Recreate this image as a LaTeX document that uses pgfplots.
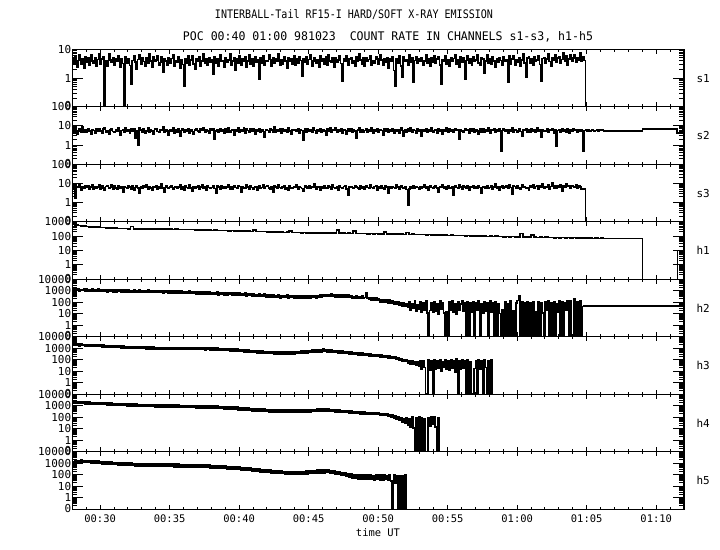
\documentclass[border=0pt]{standalone}
\usepackage{pgfplots}
\pgfplotsset{compat=1.18}
\usepackage{graphicx}
\usepackage{fontspec}
\setmainfont{DejaVu Sans Mono}
\newcommand{\lo}[1]{\raisebox{2.5bp}{#1}}
\newcommand{\hi}[1]{\raisebox{-1.5bp}{#1}}
\pgfplotsset{
 mypanel/.style={
   anchor=south west,
   width=611.7bp, height=57.5bp, scale only axis,
   xmin=28, xmax=72, ymin=0.1,
   axis line style={line width=1.4bp},
   xtick={30,35,40,45,50,55,60,65,70}, minor xtick={28,29,...,72},
   xticklabels={},
   tick align=inside,
   major tick length=4.5bp, minor tick length=2.5bp,
   tick style={line width=1bp, black},
   ytick style={draw=none},
   yticklabel style={font=\fontsize{11}{11}\selectfont, inner sep=1pt},
 },
 myyonly/.style={
   anchor=south west,
   width=611.7bp, height=57.5bp, scale only axis,
   xmin=28, xmax=72, ymin=0.1,
   hide x axis,
   y axis line style={draw=none},
   tick align=inside,
   major tick length=11bp, minor tick length=5bp,
   tick style={line width=1bp, black},
 },
 mydecA/.style={ymax=10, ytick={0.1,1,10},
   minor ytick={0.2,0.3,0.4,0.5,0.6,0.7,0.8,0.9,2,3,4,5,6,7,8,9}},
 mydecB/.style={ymax=100, ytick={0.1,1,10,100},
   minor ytick={0.2,0.3,0.4,0.5,0.6,0.7,0.8,0.9,2,3,4,5,6,7,8,9,20,30,40,50,60,70,80,90}},
 mydecC/.style={ymax=1000, ytick={0.1,1,10,100,1000},
   minor ytick={0.2,0.3,0.4,0.5,0.6,0.7,0.8,0.9,2,3,4,5,6,7,8,9,20,30,40,50,60,70,80,90,200,300,400,500,600,700,800,900}},
 mydecD/.style={ymax=10000, ytick={0.1,1,10,100,1000,10000},
   minor ytick={0.2,0.3,0.4,0.5,0.6,0.7,0.8,0.9,2,3,4,5,6,7,8,9,20,30,40,50,60,70,80,90,200,300,400,500,600,700,800,900,2000,3000,4000,5000,6000,7000,8000,9000}},
 mydat/.style={const plot, black, line width=1.6bp},
 mytl/.style={black, line width=1.2bp},
}
\begin{document}
\begin{tikzpicture}[x=1bp,y=1bp]
\fill[white] (0,0) rectangle (720,550);
\path[use as bounding box] (0,0) rectangle (720,550);
\node at (354,535) {\resizebox{278bp}{9bp}{INTERBALL-Tail RF15-I HARD/SOFT X-RAY EMISSION}};
\node at (388,513) {\resizebox{410bp}{9bp}{POC 00:40 01:00 981023\ \ COUNT RATE IN CHANNELS s1-s3, h1-h5}};

% s1
\begin{axis}[ymode=log, mypanel, mydecA, at={(72.3bp,443.2bp)}, yticklabels={\lo{0},1,\hi{10}}]
\addplot[mydat] table[row sep=\\, header=false, x expr=\coordindex*0.1+28, y index=0] {
4.5\\3.2\\5.8\\2.4\\4.1\\6.5\\3.0\\4.8\\2.2\\5.5\\
3.6\\4.9\\2.8\\6.2\\4.0\\3.3\\5.1\\2.6\\4.4\\7.0\\
3.1\\4.6\\5.3\\0.1\\3.9\\2.5\\6.8\\4.2\\3.5\\5.0\\
2.9\\4.7\\3.8\\6.1\\2.3\\4.5\\3.2\\0.1\\5.6\\3.4\\
4.8\\2.7\\0.6\\4.1\\5.9\\3.6\\2.1\\4.4\\6.6\\3.0\\
5.2\\3.8\\2.6\\4.9\\3.3\\7.2\\4.0\\2.4\\5.5\\3.7\\
4.3\\6.0\\2.9\\3.5\\5.4\\1.6\\4.6\\3.9\\2.7\\5.1\\
3.2\\4.8\\6.3\\2.5\\4.1\\3.6\\5.7\\2.2\\4.4\\3.0\\
0.5\\4.5\\3.4\\5.9\\2.8\\4.2\\6.1\\3.1\\2.0\\4.7\\
3.9\\5.3\\2.6\\4.0\\7.1\\3.3\\4.6\\2.9\\5.0\\3.6\\
4.4\\1.4\\5.6\\3.2\\4.8\\2.5\\6.4\\3.8\\4.1\\2.3\\
5.1\\3.5\\4.3\\6.7\\2.8\\3.9\\5.2\\1.9\\4.6\\3.4\\
6.0\\2.9\\4.5\\3.7\\5.4\\2.4\\4.0\\6.2\\3.1\\4.8\\
2.6\\5.5\\3.6\\4.2\\0.9\\4.9\\3.3\\5.8\\2.7\\4.1\\
3.8\\6.5\\4.4\\2.5\\5.0\\3.2\\4.7\\3.9\\6.9\\2.8\\
4.3\\3.0\\5.6\\4.0\\2.2\\5.2\\3.7\\4.5\\3.1\\6.0\\
2.9\\4.6\\3.4\\5.3\\4.1\\1.2\\4.8\\3.6\\5.7\\3.0\\
4.4\\6.3\\2.6\\3.9\\5.0\\3.3\\4.2\\2.4\\5.9\\3.8\\
4.7\\3.1\\5.4\\2.8\\6.6\\4.0\\3.5\\4.9\\2.3\\5.1\\
3.6\\4.3\\5.8\\3.2\\0.8\\4.6\\3.9\\6.1\\2.7\\4.5\\
5.2\\3.4\\4.1\\2.5\\5.6\\3.8\\6.8\\4.2\\3.0\\4.9\\
2.6\\5.0\\3.7\\4.4\\5.9\\2.9\\4.0\\3.3\\5.5\\4.7\\
3.1\\6.2\\4.3\\2.8\\4.8\\3.6\\5.1\\2.2\\4.5\\3.9\\
5.7\\1.8\\0.5\\4.6\\3.4\\6.0\\2.6\\1.1\\5.3\\3.7\\
4.4\\2.9\\6.4\\3.5\\4.9\\0.7\\4.1\\5.6\\3.2\\4.6\\
3.8\\5.2\\2.7\\4.0\\6.3\\3.4\\4.7\\2.5\\5.0\\3.6\\
6.1\\3.3\\4.5\\5.4\\2.8\\0.6\\4.2\\3.9\\5.8\\3.1\\
4.3\\2.6\\5.1\\3.7\\4.8\\6.6\\3.0\\4.4\\2.3\\5.5\\
3.5\\4.9\\0.9\\4.1\\5.9\\3.2\\4.6\\2.7\\5.3\\3.8\\
4.2\\6.2\\3.4\\2.9\\5.0\\4.5\\1.5\\4.0\\6.5\\3.3\\
4.7\\3.0\\5.6\\3.9\\2.4\\4.8\\3.6\\5.2\\4.1\\2.8\\
5.4\\3.7\\4.3\\0.7\\5.8\\3.1\\4.6\\6.0\\2.9\\4.4\\
3.6\\5.0\\2.6\\4.2\\6.7\\3.4\\1.1\\4.9\\5.5\\3.2\\
4.5\\2.8\\5.7\\3.9\\4.3\\6.1\\3.0\\0.8\\4.8\\5.2\\
3.3\\4.6\\7.0\\3.8\\2.5\\5.1\\4.2\\6.4\\3.5\\4.9\\
5.6\\3.2\\4.4\\7.3\\4.0\\5.8\\2.9\\4.7\\6.2\\3.7\\
4.9\\6.5\\3.6\\5.2\\4.3\\7.4\\3.9\\5.5\\4.1\\0.1\\
};
\end{axis}
\begin{axis}[ymode=log, myyonly, mydecA, at={(72.3bp,443.2bp)}, yticklabels={}]\end{axis}

% s2
\begin{axis}[ymode=log, mypanel, mydecB, at={(72.3bp,385.7bp)}, yticklabels={\lo{0},1,10,\hi{100}}]
\addplot[mydat] table[row sep=\\, header=false, x expr=\coordindex*0.1+28, y index=0] {
6.5\\4.2\\8.0\\3.6\\5.5\\7.2\\4.8\\9.5\\5.0\\6.1\\
4.6\\7.0\\5.3\\3.8\\6.4\\5.8\\4.4\\7.5\\5.1\\6.8\\
5.6\\4.0\\6.9\\8.2\\4.9\\5.7\\3.5\\6.3\\7.1\\5.2\\
4.5\\6.6\\5.4\\7.8\\3.2\\5.9\\6.2\\4.7\\8.5\\5.5\\
6.0\\4.3\\7.3\\5.1\\6.7\\2.2\\5.8\\1.0\\7.6\\6.1\\
5.0\\6.8\\4.1\\5.6\\7.9\\4.6\\6.3\\5.3\\3.9\\6.9\\
7.4\\5.2\\4.5\\6.5\\5.9\\8.8\\4.8\\6.0\\5.4\\3.4\\
6.2\\5.6\\7.7\\4.4\\6.1\\5.0\\6.8\\3.0\\5.7\\7.0\\
4.9\\6.4\\5.5\\7.2\\4.2\\6.6\\5.1\\3.7\\6.0\\7.5\\
5.3\\4.7\\6.9\\5.8\\8.1\\4.5\\6.2\\5.6\\4.0\\6.7\\
5.9\\7.3\\2.0\\5.4\\6.5\\4.8\\7.0\\5.2\\6.1\\4.4\\
6.8\\5.0\\7.6\\4.6\\5.7\\6.3\\3.3\\6.0\\5.5\\7.8\\
4.9\\6.2\\5.3\\8.4\\4.3\\6.7\\5.8\\4.7\\6.9\\5.1\\
7.1\\3.8\\6.0\\5.6\\7.4\\4.8\\6.3\\5.2\\2.6\\6.5\\
5.7\\4.5\\7.0\\6.1\\5.0\\8.6\\4.6\\6.4\\5.3\\7.2\\
4.1\\6.8\\5.5\\6.0\\4.9\\7.7\\5.4\\3.6\\6.6\\5.8\\
6.3\\5.1\\7.5\\4.4\\6.2\\5.7\\1.9\\6.9\\5.0\\7.1\\
5.4\\6.6\\4.7\\8.0\\5.9\\4.3\\6.4\\5.2\\7.3\\4.9\\
6.0\\5.5\\3.4\\6.7\\5.1\\7.6\\4.8\\6.3\\5.7\\8.3\\
4.6\\6.1\\5.3\\7.0\\4.2\\6.5\\5.9\\3.9\\7.4\\5.6\\
6.8\\4.9\\6.2\\5.4\\2.4\\6.0\\7.8\\5.0\\6.4\\4.5\\
5.8\\7.2\\4.7\\6.6\\5.3\\8.5\\4.1\\6.1\\5.5\\7.0\\
4.8\\6.3\\5.9\\3.2\\6.9\\5.2\\7.5\\4.6\\6.0\\5.6\\
7.3\\4.4\\6.5\\5.1\\6.2\\4.0\\7.9\\5.7\\3.0\\6.4\\
5.0\\6.7\\5.4\\7.6\\4.7\\6.1\\5.8\\4.3\\6.8\\5.3\\
6.5\\2.8\\6.0\\5.5\\7.1\\4.9\\6.4\\5.2\\8.0\\4.6\\
5.9\\6.6\\4.2\\7.3\\5.6\\6.0\\3.7\\6.2\\5.1\\7.7\\
4.8\\6.9\\5.3\\6.1\\4.5\\7.4\\5.7\\6.3\\2.1\\6.0\\
5.5\\4.9\\7.0\\5.8\\6.4\\4.1\\6.7\\5.2\\7.5\\4.7\\
6.2\\5.6\\3.5\\6.8\\5.0\\7.2\\4.6\\6.1\\5.4\\8.2\\
4.4\\6.5\\5.9\\7.1\\5.0\\6.3\\5.1\\6.9\\0.5\\5.7\\
7.0\\5.3\\6.0\\4.3\\6.6\\5.5\\7.8\\4.9\\6.2\\5.8\\
4.6\\6.8\\5.2\\3.1\\6.4\\5.7\\7.3\\5.0\\6.1\\4.8\\
6.9\\5.4\\6.3\\4.7\\7.6\\5.1\\6.0\\2.7\\6.5\\5.6\\
5.2\\7.0\\4.5\\6.2\\5.8\\6.7\\4.0\\6.3\\0.9\\5.9\\
6.4\\4.9\\7.2\\5.5\\6.1\\5.0\\6.8\\4.4\\6.6\\5.3\\
7.4\\5.7\\6.0\\4.8\\6.5\\5.2\\6.2\\0.5\\5.8\\6.3\\
5.6\\6.1\\5.4\\5.9\\6.4\\5.2\\5.8\\6.0\\5.5\\6.2\\
5.7\\6.3\\5.3\\5.9\\5.6\\5.5\\
};
\addplot[mytl] coordinates {(66.5,5.5)(69.0,5.5)(69.0,6.9)(71.5,6.9)(71.5,4.3)(71.9,4.3)(71.9,8)(72,8)};
\end{axis}
\begin{axis}[ymode=log, myyonly, mydecB, at={(72.3bp,385.7bp)}, yticklabels={}]\end{axis}

% s3
\begin{axis}[ymode=log, mypanel, mydecB, at={(72.3bp,328.2bp)}, yticklabels={\lo{0},1,10,\hi{100}}]
\addplot[mydat] table[row sep=\\, header=false, x expr=\coordindex*0.1+28, y index=0] {
8.5\\5.2\\1.8\\7.0\\6.1\\9.8\\4.6\\6.8\\5.5\\7.4\\
6.2\\7.9\\5.0\\6.6\\8.2\\4.8\\7.1\\5.9\\6.4\\8.8\\
5.3\\7.5\\6.0\\4.4\\6.9\\7.7\\5.6\\6.3\\8.4\\5.1\\
7.2\\6.0\\4.9\\7.8\\5.7\\6.5\\3.6\\7.0\\6.2\\5.4\\
8.0\\6.6\\5.2\\7.3\\4.7\\6.1\\7.6\\5.8\\3.1\\6.9\\
5.5\\7.4\\6.3\\8.6\\5.0\\6.7\\5.9\\4.5\\7.1\\6.4\\
7.7\\5.3\\6.8\\6.0\\9.3\\5.6\\3.4\\7.2\\6.1\\5.8\\
6.5\\7.9\\4.9\\6.3\\7.0\\5.4\\6.6\\8.1\\5.2\\6.9\\
4.6\\7.3\\6.2\\5.7\\8.3\\6.0\\3.8\\7.1\\5.9\\6.7\\
7.5\\5.1\\6.4\\8.7\\5.8\\6.9\\4.4\\7.4\\6.3\\5.6\\
6.1\\7.8\\5.5\\3.0\\7.2\\6.6\\5.3\\8.0\\6.0\\7.0\\
5.7\\6.5\\8.9\\5.0\\6.8\\4.8\\7.3\\6.2\\5.4\\7.6\\
6.9\\3.5\\7.1\\6.0\\5.6\\8.2\\6.4\\5.1\\7.7\\6.3\\
5.2\\7.0\\6.6\\4.3\\7.9\\5.8\\6.2\\9.0\\5.5\\6.8\\
7.4\\6.0\\5.3\\6.9\\3.3\\7.2\\6.5\\5.7\\8.4\\6.1\\
5.9\\6.7\\7.6\\5.0\\6.3\\4.6\\7.8\\6.0\\5.4\\7.1\\
6.6\\8.5\\5.2\\6.9\\6.1\\5.5\\3.9\\7.4\\6.4\\5.8\\
7.3\\5.6\\6.8\\6.2\\9.1\\5.0\\6.5\\7.0\\4.2\\6.7\\
5.4\\7.7\\6.0\\5.8\\7.2\\6.6\\5.1\\8.3\\6.3\\5.7\\
6.9\\4.7\\7.5\\6.1\\5.5\\6.8\\7.9\\5.3\\2.4\\6.4\\
7.1\\6.2\\5.6\\8.0\\6.5\\5.9\\4.9\\7.3\\6.0\\6.8\\
5.0\\7.6\\6.3\\5.7\\8.6\\6.1\\5.4\\6.9\\7.2\\4.4\\
6.7\\5.5\\7.4\\6.0\\5.2\\7.8\\6.4\\3.2\\6.8\\5.9\\
7.0\\6.3\\5.6\\8.2\\6.6\\5.1\\7.5\\6.2\\5.8\\6.9\\
4.8\\0.75\\5.0\\6.5\\6.0\\7.7\\5.5\\6.8\\6.2\\5.3\\
7.1\\5.8\\6.6\\8.4\\5.4\\6.9\\4.5\\7.2\\6.3\\5.7\\
6.4\\7.5\\5.9\\3.6\\7.0\\6.1\\8.1\\5.6\\6.7\\5.2\\
7.3\\6.0\\5.5\\6.8\\2.5\\7.4\\6.3\\5.8\\8.5\\6.6\\
5.1\\7.2\\6.5\\5.9\\7.7\\4.7\\6.8\\6.2\\7.9\\5.6\\
6.9\\5.4\\8.0\\6.3\\3.0\\7.1\\6.6\\5.7\\7.4\\6.0\\
6.2\\7.8\\5.3\\6.7\\9.2\\5.9\\7.0\\4.3\\6.5\\7.6\\
5.8\\6.4\\7.3\\5.5\\8.3\\6.1\\2.8\\7.2\\6.8\\5.6\\
7.5\\6.0\\5.2\\8.7\\6.6\\7.1\\5.9\\6.3\\4.6\\7.8\\
6.3\\8.9\\5.7\\6.9\\7.4\\4.9\\7.7\\6.2\\9.6\\5.8\\
7.0\\6.4\\8.1\\5.3\\6.8\\10.5\\6.0\\7.6\\5.5\\7.2\\
6.6\\8.4\\4.0\\7.3\\6.1\\9.4\\6.9\\7.8\\5.9\\8.0\\
7.1\\6.3\\8.6\\5.4\\7.5\\6.7\\4.8\\5.5\\5.0\\0.1\\
};
\end{axis}
\begin{axis}[ymode=log, myyonly, mydecB, at={(72.3bp,328.2bp)}, yticklabels={}]\end{axis}

% h1
\begin{axis}[ymode=log, mypanel, mydecC, at={(72.3bp,270.7bp)}, yticklabels={\lo{0},1,10,100,\hi{1000}}]
\addplot[mydat] table[row sep=\\, header=false, x expr=\coordindex*0.2+28, y index=0] {
640\\600\\560\\520\\490\\
470\\455\\440\\425\\415\\
405\\395\\385\\375\\365\\
355\\350\\345\\340\\335\\
330\\470\\330\\325\\320\\
322\\318\\315\\320\\312\\
316\\310\\318\\305\\312\\
316\\300\\308\\295\\300\\
290\\296\\282\\288\\276\\
280\\268\\274\\262\\266\\
255\\260\\248\\252\\244\\
246\\238\\242\\232\\236\\
226\\232\\220\\225\\215\\
280\\212\\214\\206\\210\\
200\\204\\196\\198\\190\\
192\\185\\188\\230\\180\\
176\\180\\172\\175\\168\\
166\\170\\164\\168\\162\\
166\\160\\168\\162\\166\\
270\\160\\164\\158\\162\\
156\\220\\154\\158\\150\\
153\\148\\152\\146\\150\\
144\\148\\190\\142\\146\\
138\\142\\136\\140\\134\\
175\\132\\136\\130\\133\\
127\\131\\125\\128\\122\\
124\\118\\121\\115\\119\\
112\\116\\110\\114\\108\\
111\\105\\109\\103\\107\\
101\\105\\99\\103\\97\\
100\\95\\98\\93\\96\\
91\\94\\89\\92\\87\\
90\\150\\86\\89\\84\\
120\\87\\82\\86\\81\\
84\\79\\83\\78\\82\\
77\\81\\76\\80\\75\\
79\\74\\78\\73\\77\\
72\\76\\71\\75\\70\\
73\\71\\
};
\addplot[mytl] coordinates {(66.2,71)(69.0,71)(69.0,0.1)(71.55,0.1)(71.55,9.5)(72,9.5)};
\end{axis}
\begin{axis}[ymode=log, myyonly, mydecC, at={(72.3bp,270.7bp)}, yticklabels={}]\end{axis}

% h2
\begin{axis}[ymode=log, mypanel, mydecD, at={(72.3bp,213.2bp)}, yticklabels={\lo{0},1,10,100,1000,\hi{10000}}]
\addplot[mydat] table[row sep=\\, header=false, x expr=\coordindex*0.1+28, y index=0] {
1450\\980\\1380\\1020\\1500\\950\\1320\\1060\\1400\\940\\
1350\\900\\1300\\960\\1420\\880\\1280\\930\\1360\\870\\
1250\\850\\1200\\900\\1320\\820\\1180\\880\\1260\\800\\
1180\\800\\1150\\840\\1220\\770\\1120\\820\\1190\\760\\
1130\\750\\1100\\790\\1160\\740\\1080\\780\\1150\\720\\
1090\\720\\1050\\760\\1110\\700\\1030\\740\\1080\\690\\
1040\\690\\1000\\720\\1070\\660\\980\\710\\1030\\650\\
1000\\640\\960\\680\\1020\\620\\930\\660\\980\\600\\
900\\580\\860\\610\\920\\560\\840\\590\\880\\540\\
800\\520\\770\\550\\830\\500\\750\\530\\790\\490\\
730\\470\\700\\500\\760\\450\\680\\480\\720\\440\\
680\\430\\650\\460\\700\\420\\630\\440\\670\\400\\
610\\390\\580\\410\\640\\370\\560\\390\\600\\350\\
510\\330\\490\\350\\530\\310\\470\\330\\500\\300\\
430\\280\\410\\290\\450\\260\\400\\280\\420\\250\\
400\\260\\380\\270\\420\\250\\370\\260\\390\\240\\
380\\240\\360\\250\\390\\230\\350\\245\\370\\235\\
390\\250\\370\\260\\400\\245\\380\\255\\410\\260\\
460\\310\\440\\330\\480\\320\\500\\340\\470\\300\\
450\\290\\430\\300\\460\\280\\420\\290\\440\\270\\
350\\230\\330\\240\\360\\220\\320\\230\\340\\210\\
260\\700\\250\\180\\270\\160\\240\\150\\250\\140\\
190\\110\\180\\105\\170\\95\\160\\90\\150\\80\\
125\\70\\115\\62\\105\\55\\95\\50\\88\\45\\
80\\36\\120\\22\\75\\30\\140\\18\\65\\25\\
110\\15\\85\\22\\130\\12\\0.1\\20\\95\\14\\
120\\18\\75\\10\\140\\25\\90\\12\\0.1\\16\\
0.1\\100\\20\\125\\14\\80\\9\\115\\22\\70\\
135\\16\\90\\0.1\\120\\0.1\\85\\13\\105\\0.1\\
95\\20\\130\\0.1\\75\\12\\110\\18\\85\\0.1\\
125\\15\\90\\0.1\\100\\0.1\\80\\11\\0.1\\24\\
0.1\\110\\0.1\\70\\0.1\\130\\0.1\\19\\0.1\\85\\
140\\350\\0.1\\120\\0.1\\95\\0.1\\110\\0.1\\85\\
0.1\\120\\0.1\\16\\0.1\\100\\0.1\\90\\12\\0.1\\
105\\20\\135\\0.1\\85\\0.1\\110\\0.1\\75\\13\\
125\\0.1\\110\\0.1\\95\\22\\130\\0.1\\140\\0.1\\
0.1\\220\\0.1\\100\\0.1\\130\\0.1\\48\\
};
\addplot[mytl] coordinates {(64.7,48)(72,48)};
\end{axis}
\begin{axis}[ymode=log, myyonly, mydecD, at={(72.3bp,213.2bp)}, yticklabels={}]\end{axis}

% h3
\begin{axis}[ymode=log, mypanel, mydecD, at={(72.3bp,155.7bp)}, yticklabels={\lo{0},1,10,100,1000,\hi{10000}}]
\addplot[mydat] table[row sep=\\, header=false, x expr=\coordindex*0.1+28, y index=0] {
2400\\1700\\2500\\1800\\2300\\1650\\2350\\1750\\2200\\1600\\
2150\\1550\\2100\\1500\\2050\\1480\\2000\\1450\\1950\\1420\\
1900\\1350\\1850\\1300\\1800\\1280\\1750\\1250\\1700\\1200\\
1650\\1180\\1600\\1150\\1560\\1120\\1520\\1100\\1480\\1080\\
1450\\1050\\1420\\1020\\1390\\1000\\1360\\980\\1330\\960\\
1300\\940\\1280\\920\\1260\\900\\1240\\890\\1220\\880\\
1200\\870\\1190\\860\\1180\\850\\1170\\840\\1160\\830\\
1150\\820\\1140\\810\\1130\\800\\1120\\790\\1110\\780\\
1130\\800\\1150\\780\\1120\\790\\1140\\770\\1100\\760\\
1120\\780\\1100\\760\\1130\\750\\1090\\770\\1080\\740\\
1050\\720\\1020\\700\\1000\\680\\980\\660\\950\\640\\
930\\620\\900\\600\\880\\580\\860\\560\\840\\540\\
800\\520\\760\\500\\720\\480\\690\\460\\660\\440\\
620\\420\\600\\400\\580\\380\\560\\370\\540\\360\\
520\\350\\510\\340\\500\\335\\495\\330\\490\\325\\
500\\330\\490\\320\\510\\325\\480\\315\\500\\320\\
520\\340\\540\\350\\560\\360\\580\\370\\600\\380\\
640\\420\\680\\440\\720\\460\\760\\480\\800\\500\\
820\\520\\780\\500\\740\\480\\700\\460\\660\\430\\
620\\410\\580\\390\\550\\370\\520\\350\\490\\330\\
460\\310\\440\\290\\420\\270\\400\\260\\380\\250\\
360\\240\\340\\225\\320\\210\\300\\200\\285\\190\\
270\\180\\255\\170\\240\\160\\225\\150\\210\\140\\
190\\125\\170\\110\\150\\95\\130\\80\\110\\70\\
95\\55\\85\\45\\75\\40\\70\\35\\65\\30\\
90\\15\\85\\22\\0.1\\0.1\\95\\12\\75\\0.1\\
100\\14\\80\\20\\95\\10\\70\\25\\110\\16\\
85\\12\\100\\18\\75\\9\\120\\0.1\\90\\15\\
105\\20\\80\\0.1\\95\\0.1\\70\\0.1\\0.1\\18\\
90\\0.1\\110\\14\\85\\0.1\\100\\22\\0.1\\75\\
0.1\\95\\0.1\\
};
\end{axis}
\begin{axis}[ymode=log, myyonly, mydecD, at={(72.3bp,155.7bp)}, yticklabels={}]\end{axis}

% h4
\begin{axis}[ymode=log, mypanel, mydecD, at={(72.3bp,98.2bp)}, yticklabels={\lo{0},1,10,100,1000,\hi{10000}}]
\addplot[mydat] table[row sep=\\, header=false, x expr=\coordindex*0.1+28, y index=0] {
2400\\1700\\2300\\1650\\2250\\1600\\2200\\1550\\2150\\1500\\
2100\\1450\\2050\\1420\\2000\\1400\\1950\\1380\\1900\\1350\\
1850\\1300\\1800\\1260\\1750\\1220\\1700\\1190\\1650\\1150\\
1600\\1120\\1560\\1090\\1520\\1060\\1480\\1030\\1450\\1000\\
1420\\980\\1400\\960\\1380\\940\\1360\\920\\1340\\900\\
1320\\880\\1300\\860\\1280\\850\\1260\\840\\1240\\830\\
1220\\820\\1200\\810\\1180\\800\\1160\\790\\1150\\780\\
1140\\770\\1130\\760\\1120\\750\\1110\\740\\1100\\730\\
1090\\720\\1080\\710\\1070\\700\\1060\\690\\1050\\680\\
1040\\670\\1030\\660\\1020\\650\\1010\\640\\1000\\630\\
980\\620\\950\\600\\920\\580\\890\\560\\860\\540\\
830\\520\\800\\500\\780\\480\\760\\460\\740\\450\\
720\\440\\690\\420\\660\\400\\630\\385\\600\\370\\
580\\360\\560\\345\\540\\330\\520\\320\\500\\310\\
490\\300\\480\\295\\470\\290\\460\\285\\450\\280\\
445\\275\\440\\270\\435\\265\\430\\260\\425\\255\\
420\\260\\430\\270\\440\\280\\450\\290\\460\\300\\
470\\305\\480\\310\\490\\320\\500\\325\\510\\330\\
520\\340\\510\\330\\500\\320\\480\\310\\460\\300\\
440\\290\\420\\280\\400\\270\\380\\260\\360\\250\\
340\\235\\320\\225\\310\\215\\300\\205\\290\\195\\
280\\190\\270\\185\\260\\180\\250\\175\\240\\170\\
230\\165\\220\\160\\210\\150\\190\\130\\170\\110\\
150\\90\\130\\70\\110\\55\\90\\40\\75\\30\\
90\\20\\70\\15\\100\\12\\0.1\\85\\0.1\\110\\
0.1\\95\\0.1\\80\\0.1\\0.1\\90\\18\\110\\25\\
100\\15\\0.1\\90\\0.1\\0.1\\
};
\end{axis}
\begin{axis}[ymode=log, myyonly, mydecD, at={(72.3bp,98.2bp)}, yticklabels={}]\end{axis}

% h5
\begin{axis}[ymode=log, mypanel, mydecD, at={(72.3bp,40.7bp)}, yticklabels={\lo{0},1,10,100,1000,\hi{10000}},
  xticklabels={00:30,00:35,00:40,00:45,00:50,00:55,01:00,01:05,01:10},
  xticklabel style={font=\fontsize{10.5}{10.5}\selectfont, yshift=-2bp}]
\addplot[mydat] table[row sep=\\, header=false, x expr=\coordindex*0.1+28, y index=0] {
1300\\900\\1500\\1000\\1700\\1150\\1900\\1250\\1800\\1200\\
1750\\1150\\1650\\1100\\1600\\1050\\1550\\1000\\1500\\950\\
1450\\900\\1400\\860\\1350\\830\\1300\\800\\1250\\780\\
1200\\760\\1150\\730\\1100\\700\\1080\\680\\1050\\660\\
1020\\640\\1000\\620\\980\\600\\960\\590\\940\\580\\
930\\570\\920\\560\\910\\555\\900\\550\\890\\545\\
880\\540\\870\\530\\860\\525\\850\\520\\840\\515\\
835\\510\\830\\505\\825\\500\\820\\495\\815\\490\\
810\\490\\800\\485\\790\\480\\780\\470\\770\\460\\
760\\450\\740\\440\\720\\430\\700\\415\\680\\400\\
660\\390\\640\\380\\620\\365\\600\\350\\580\\340\\
560\\330\\540\\315\\520\\300\\500\\290\\480\\280\\
460\\265\\440\\250\\420\\240\\400\\230\\380\\215\\
360\\205\\340\\195\\320\\185\\300\\175\\280\\165\\
265\\155\\250\\145\\240\\140\\230\\135\\220\\130\\
210\\125\\200\\120\\195\\115\\190\\110\\185\\108\\
180\\105\\185\\108\\190\\110\\200\\115\\210\\120\\
220\\125\\230\\130\\240\\135\\250\\140\\260\\145\\
270\\150\\280\\155\\260\\145\\240\\130\\220\\120\\
200\\110\\180\\95\\160\\85\\140\\75\\130\\65\\
120\\55\\110\\50\\105\\45\\100\\42\\95\\40\\
100\\42\\95\\38\\110\\40\\90\\36\\105\\38\\
100\\36\\95\\34\\110\\38\\90\\32\\100\\30\\
0.1\\100\\18\\80\\0.1\\85\\0.1\\90\\0.1\\95\\
0.1\\
};
\end{axis}
\begin{axis}[ymode=log, myyonly, mydecD, at={(72.3bp,40.7bp)}, yticklabels={}]\end{axis}

\begin{scope}[font=\fontsize{11}{11}\selectfont]
\node[anchor=west] at (693,471.9) {s1};
\node[anchor=west] at (693,414.4) {s2};
\node[anchor=west] at (693,356.9) {s3};
\node[anchor=west] at (693,299.4) {h1};
\node[anchor=west] at (693,241.9) {h2};
\node[anchor=west] at (693,184.4) {h3};
\node[anchor=west] at (693,126.9) {h4};
\node[anchor=west] at (693,69.4) {h5};
\end{scope}
\node[font=\fontsize{10.5}{10.5}\selectfont] at (378,17) {time UT};
\end{tikzpicture}
\end{document}
